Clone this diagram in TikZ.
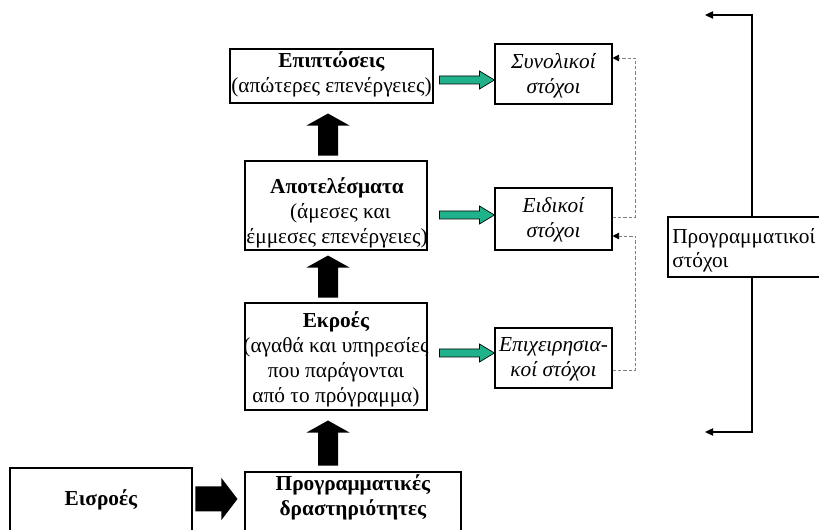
\documentclass[tikz,border=0pt]{standalone}
\usepackage{fontspec}
\setmainfont{Liberation Serif}
\usetikzlibrary{calc,arrows.meta}
\begin{document}
\begin{tikzpicture}[x=0.75pt,y=-0.75pt,
  box/.style={draw=black,line width=0.8pt,fill=white,inner sep=0pt},
  sz/.style 2 args={minimum width=#1*0.75pt,minimum height=#2*0.75pt},
  txt/.style={align=center,font=\fontsize{16}{18.75}\selectfont,inner sep=0pt},
  itxt/.style={txt,font=\fontsize{16}{18.75}\selectfont\itshape},
  blk/.style={fill=black},
  garrow/.style={fill={rgb,255:red,32;green,178;blue,138},draw=black,line width=0.5pt},
  dconn/.style={draw={rgb,255:red,128;green,128;blue,128},line width=0.7pt,dash pattern=on 2.5pt off 1.5pt,-{Triangle[length=5pt,width=5pt,color=black]}},
  rconn/.style={draw=black,line width=0.8pt,-{Triangle[length=6pt,width=5.5pt]}}]
\path[use as bounding box] (0,0) rectangle (819,530);
\clip (0,0) rectangle (819,530);

% left column boxes
\node[box,sz={203}{54}] (B1) at (331.5,76) {};
\node[box,sz={182}{89}] (B2) at (336,205.5) {};
\node[box,sz={182}{107}] (B3) at (336,356.5) {};
\node[box,sz={216}{80}] (B4) at (353,512) {};
\node[box,sz={182}{84}] (B0) at (101,510) {};

% goal boxes
\node[box,sz={117}{60}] (G1) at (553.5,74) {};
\node[box,sz={117}{62}] (G2) at (553.5,219) {};
\node[box,sz={117}{60}] (G3) at (553.5,358) {};

% programme goals box
\node[box,sz={162}{60}] (P) at (749,247) {};

% texts
\node[txt] (T1) at (331.5,74) {\textbf{Επιπτώσεις}\\(απώτερες επενέργειες)};
\node[txt] (T2) at (337,213) {\textbf{Αποτελέσματα}\\\hspace*{5pt}(άμεσες και\\έμμεσες επενέργειες)};
\node[txt] (T3) at (336,359) {\textbf{Εκροές}\\(αγαθά και υπηρεσίες\\που παράγονται\\από το πρόγραμμα)};
\node[txt] (T4) at (353,497.5) {\textbf{Προγραμματικές}\\\textbf{δραστηριότητες}};
\node[txt] (T0) at (101,500) {\textbf{Εισροές}};
\node[itxt] (GT1) at (553.5,75.5) {Συνολικοί\\στόχοι};
\node[itxt] (GT2) at (553.5,219.5) {Ειδικοί\\στόχοι};
\node[itxt] (GT3) at (553.5,359.5) {Επιχειρησια-\\κοί στόχοι};
\node[txt,align=left,anchor=west,font=\fontsize{16}{18}\selectfont] (PT) at (672,250) {Προγραμματικοί\\στόχοι};

% black block arrows (up)
\coordinate (ax) at (328,0);
\fill[blk] ($(B1.south -| ax)+(0,10)$) -- ++(21.5,12) -- ++(-11.5,0) -- ++(0,30) -- ++(-20,0) -- ++(0,-30) -- ++(-11.5,0) -- cycle;
\fill[blk] ($(B2.south -| ax)+(0,5)$) -- ++(21.5,12) -- ++(-11.5,0) -- ++(0,30) -- ++(-20,0) -- ++(0,-30) -- ++(-11.5,0) -- cycle;
\fill[blk] ($(B3.south -| ax)+(0,10)$) -- ++(21.5,12) -- ++(-11.5,0) -- ++(0,33) -- ++(-20,0) -- ++(0,-33) -- ++(-11.5,0) -- cycle;
% black block arrow (right)
\coordinate (ry) at (0,499);
\fill[blk] ($(B4.west |- ry)+(-7,0)$) -- ++(-16,-21) -- ++(0,8.5) -- ++(-26,0) -- ++(0,25) -- ++(26,0) -- ++(0,8.5) -- cycle;

% green arrows
\draw[garrow] ($(G1.west)+(0,6)$) -- ++(-15,-9) -- ++(0,5) -- ++(-40,0) -- ++(0,8) -- ++(40,0) -- ++(0,5) -- cycle;
\draw[garrow] ($(G2.west)+(0,-4)$) -- ++(-15,-9) -- ++(0,5) -- ++(-40,0) -- ++(0,8) -- ++(40,0) -- ++(0,5) -- cycle;
\draw[garrow] ($(G3.west)+(0,-5)$) -- ++(-15,-9) -- ++(0,5) -- ++(-40,0) -- ++(0,8) -- ++(40,0) -- ++(0,5) -- cycle;

% dashed feedback connectors
\draw[dconn] ($(G2.east)+(0,-2)$) -- ++(23,0) |- ($(G1.east)+(0,-16)$);
\draw[dconn] ($(G3.east)+(0,12)$) -- ++(23,0) |- ($(G2.east)+(0,17)$);

% right bracket arrows
\coordinate (vx) at (752,0);
\coordinate (topend) at (705,15);
\coordinate (botend) at (705,432);
\draw[rconn] (P.north -| vx) |- (topend);
\draw[rconn] (P.south -| vx) |- (botend);
\end{tikzpicture}
\end{document}
